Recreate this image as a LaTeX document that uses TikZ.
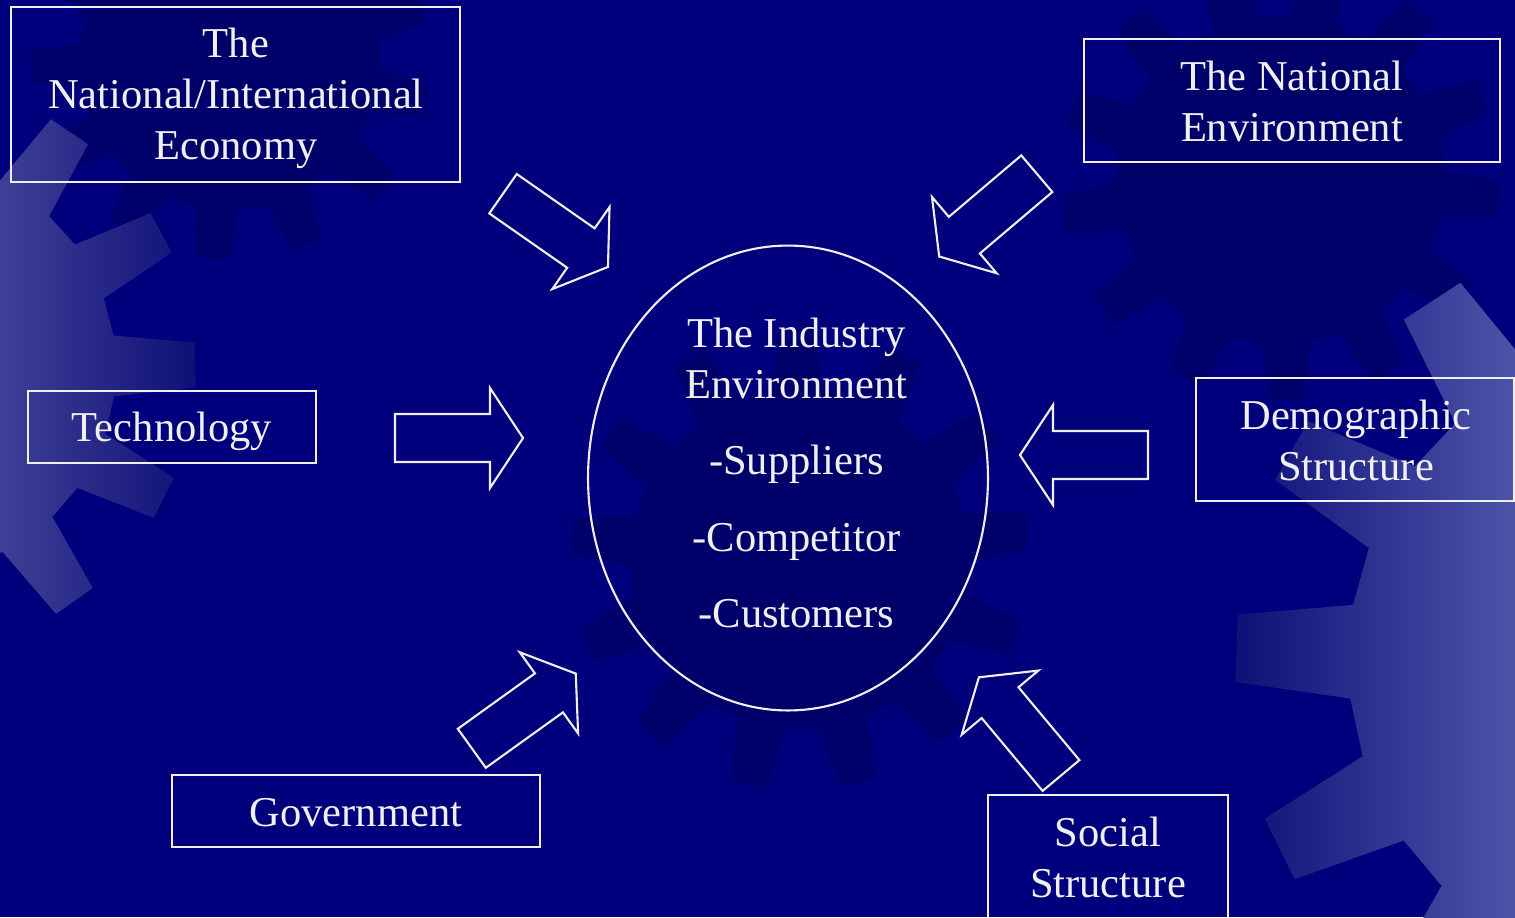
\documentclass[tikz,border=0pt]{standalone}
\usepackage{fontspec}
\setmainfont{Liberation Serif}
\usetikzlibrary{shapes.geometric}
\definecolor{bgblue}{RGB}{0,0,125}
\definecolor{darkgear}{RGB}{0,0,106}
\definecolor{lightgear}{RGB}{62,64,150}
\definecolor{lightgearR}{RGB}{76,84,168}
\definecolor{gearfade}{RGB}{14,15,118}
\definecolor{txt}{RGB}{240,240,242}
% gear outline: tip radius, root radius, phase (13 teeth)
\newcommand{\gearpts}[3]{({#3-8.5}:#2) \foreach \k in {0,...,12}{ -- ({#3+\k*27.6923-8.5}:#2) -- ({#3+\k*27.6923-4.5}:#1) -- ({#3+\k*27.6923+4.5}:#1) -- ({#3+\k*27.6923+8.5}:#2)} -- cycle}
\tikzset{
  frame/.style={draw=txt, line width=1.2pt, rectangle, inner sep=0pt},
  lbl/.style={inner sep=0pt, align=center, text=txt, font=\fontsize{24.2}{29}\selectfont},
  arrowline/.style={draw=txt, line width=1.2pt, line join=miter},
  blockarrow/.pic={\draw[arrowline] (0,24) -- (95,24) -- (95,50) -- (128,0) -- (95,-50) -- (95,-24) -- (0,-24) -- cycle;},
}
\begin{document}
\begin{tikzpicture}[x=0.02cm, y=-0.02cm]
\useasboundingbox (0,0) rectangle (1515,917);
\fill[bgblue] (0,0) rectangle (1515,917);
% dark background gears
\fill[darkgear, shift={(230,60)}] \gearpts{200}{150}{12};
\fill[darkgear, shift={(1280,180)}] \gearpts{220}{165}{5};
\fill[darkgear, shift={(800,560)}] \gearpts{230}{170}{20};
% light left gear
\begin{scope}
  \clip[shift={(-90,368)}] \gearpts{286}{206}{-0.6};
  \fill[lightgear] (-400,0) rectangle (0,917);
  \shade[left color=lightgear, right color=gearfade] (0,0) rectangle (200,917);
\end{scope}
% light right gear
\begin{scope}
  \clip[shift={(1665,661)}] \gearpts{430}{317}{181.7};
  \shade[left color=gearfade, right color=lightgearR] (1230,0) rectangle (1515,917);
\end{scope}
% boxes
\node[frame, minimum width=8.98cm, minimum height=3.5cm] (econ) at (235.5,94.5) {};
\node[lbl] (econtxt) at (236,98.5) {The\\National/International\\Economy};
\node[frame, minimum width=8.32cm, minimum height=2.46cm] (natenv) at (1292,100.5) {};
\node[lbl] (natenvtxt) at (1292,101.5) {The National\\Environment};
\node[frame, minimum width=5.76cm, minimum height=1.44cm] (tech) at (172,427) {};
\node[lbl] (techtxt) at (172,431.5) {Technology};
\node[frame, minimum width=6.36cm, minimum height=2.46cm] (demo) at (1355,439.5) {};
\node[lbl] (demotxt) at (1356,440.5) {Demographic\\Structure};
\node[frame, minimum width=7.36cm, minimum height=1.44cm] (gov) at (356,811) {};
\node[lbl] (govtxt) at (356,813) {Government};
\node[frame, minimum width=4.8cm, minimum height=2.5cm] (soc) at (1108,857.5) {};
\node[lbl] (soctxt) at (1108,857.5) {Social\\Structure};
% industry ellipse
\node[ellipse, draw=txt, line width=1.2pt, minimum width=8cm, minimum height=9.3cm, inner sep=0pt] (ind) at (788,478) {};
\node[lbl] (indtxt) at (796.5,473)
  {The Industry\\Environment\\[14.5pt]-Suppliers\\[14.5pt]-Competitor\\[14.5pt]-Customers};
% block arrows
\path (503,193.7) pic[rotate=-34.9] {blockarrow};
\path (1036.8,173.7) pic[rotate=220.3] {blockarrow};
\path (395,438) pic {blockarrow};
\path (1148,455) pic[rotate=180] {blockarrow};
\path (471.8,748.3) pic[rotate=35.7] {blockarrow};
\path (1061,775.5) pic[rotate=129.9] {blockarrow};
\end{tikzpicture}
\end{document}
